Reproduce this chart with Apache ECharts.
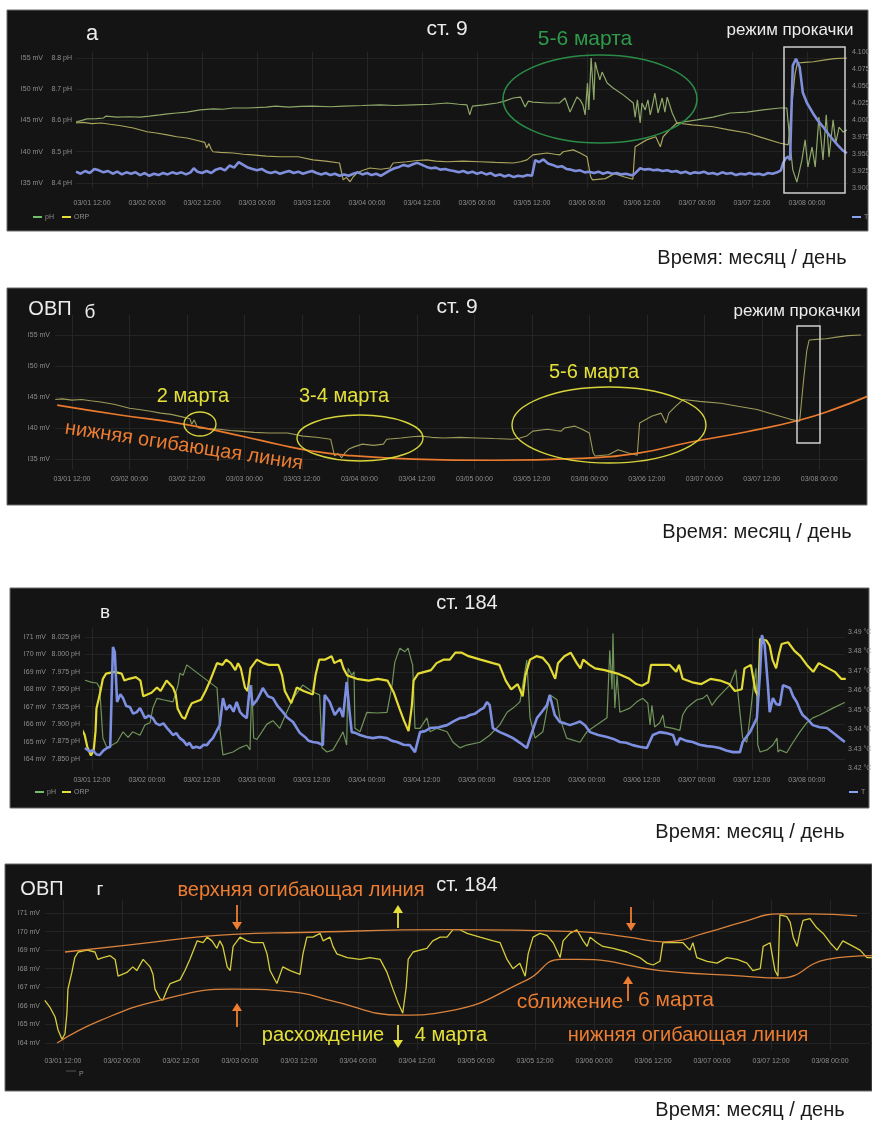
<!DOCTYPE html>
<html>
<head>
<meta charset="utf-8">
<script src="https://cdn.jsdelivr.net/npm/echarts@6/dist/echarts.min.js"></script>
<style>
html, body { margin: 0; padding: 0; background: #fff; }
#chart { width: 872px; height: 1121px; }
</style>
</head>
<body>
<div id="chart"></div>
<script>
// time is in hours from 03/01 00:00
var timeTicks = [12, 24, 36, 48, 60, 72, 84, 96, 108, 120, 132, 144, 156, 168];

var st9OrpTicks = [135, 140, 145, 150, 155];
var st9PhTicks = [8.4, 8.5, 8.6, 8.7, 8.8];
var st9TTicks = [3.9, 3.925, 3.95, 3.975, 4.0, 4.025, 4.05, 4.075, 4.1];
var st184OrpTicks = [364, 365, 366, 367, 368, 369, 370, 371];
var st184PhTicks = [7.85, 7.875, 7.9, 7.925, 7.95, 7.975, 8.0, 8.025];
var st184TTicks = [3.42, 3.43, 3.44, 3.45, 3.46, 3.47, 3.48, 3.49];

// station 9
var st9Orp = [[8.5,144.6],[10,144.7],[12,144.5],[14,144.6],[15.9,144.4],[18,144.2],[21,143.8],[24,143.2],[26,143.0],[28.4,142.7],[30.5,142.4],[32.7,142.2],[35,141.8],[36.6,141.5],[37.0,140.6],[37.5,141.3],[38.0,140.4],[38.4,140.0],[40,139.9],[42.8,139.8],[45,139.6],[47,139.5],[50,139.3],[53,139.2],[57,139.2],[60.2,138.7],[63,138.5],[66,138.2],[66.8,135.5],[67.5,135.9],[68.3,135.2],[69.0,136.0],[69.8,136.6],[71,137.0],[72.6,137.4],[75,137.2],[77,137.4],[77.7,138.2],[80.7,138.4],[83,138.6],[85,138.7],[87,138.5],[89.5,138.4],[93,138.5],[96.6,138.4],[100,138.3],[103.9,138.2],[105.5,138.4],[106.9,138.7],[108.2,139.5],[111.3,139.8],[113,139.6],[114.1,139.5],[114.8,140.0],[117,140.3],[118.5,139.8],[120,139.2],[120.8,136.0],[121.2,135.5],[124,135.7],[126,136.5],[128,136.0],[130,135.6],[130.5,140.8],[133,141.9],[135,142.4],[136,140.8],[136.6,142.4],[138,143.5],[139.6,144.6],[143,144.3],[147.5,144.0],[151,143.5],[155,143.0],[158,142.3],[162,141.4],[163.9,141.1],[164.8,148.3],[165.4,152.5],[165.9,154.2],[167.5,154.3],[169.4,154.4],[172,154.7],[174,154.9],[176.7,155.0]];

var st9Ph = [[8.5,8.595],[10.9,8.605],[13,8.606],[14.5,8.608],[15.0,8.614],[17.5,8.611],[20,8.612],[22.5,8.611],[24.5,8.614],[26.8,8.618],[28.5,8.621],[30.5,8.624],[32.7,8.627],[35.6,8.634],[38.5,8.637],[40.5,8.636],[42.8,8.640],[46,8.640],[50,8.643],[52,8.646],[55,8.643],[57.5,8.645],[60,8.646],[64,8.644],[67,8.646],[71,8.648],[74.8,8.650],[78,8.648],[82,8.650],[86,8.652],[89.5,8.656],[92,8.652],[93.8,8.650],[94.4,8.618],[95,8.646],[97.5,8.650],[100.4,8.656],[102,8.662],[103.9,8.672],[105.5,8.675],[106.5,8.643],[107.2,8.662],[108.2,8.659],[111.3,8.656],[114,8.656],[115.2,8.672],[116.3,8.627],[117.8,8.675],[118.5,8.666],[119.1,8.650],[119.6,8.618],[120.1,8.72],[120.4,8.634],[120.9,8.8],[121.3,8.794],[121.5,8.666],[121.8,8.787],[122.2,8.762],[122.8,8.73],[123.3,8.755],[124.4,8.72],[125.7,8.704],[127.9,8.682],[130.1,8.656],[130.5,8.611],[131,8.666],[131.6,8.592],[132,8.656],[132.7,8.634],[133.3,8.666],[133.8,8.618],[134.4,8.656],[134.8,8.688],[135.5,8.624],[136.4,8.672],[137,8.627],[137.5,8.675],[138.6,8.624],[139.6,8.592],[144,8.602],[147.5,8.611],[151.2,8.624],[154.9,8.627],[158.4,8.634],[162.1,8.64],[163.6,8.64],[164.3,8.528],[164.9,8.442],[165.8,8.403],[166.9,8.474],[167.6,8.538],[168.2,8.451],[169.1,8.515],[169.8,8.451],[170.6,8.611],[171.5,8.474],[172.2,8.618],[172.8,8.483],[173.7,8.602],[174.3,8.528],[175,8.579],[175.9,8.563],[176.7,8.57]];

var st9T = [[8.5,3.924],[9.5,3.921],[10.5,3.925],[11.5,3.922],[12.5,3.928],[13.5,3.926],[14.5,3.923],[15.5,3.925],[16.5,3.921],[17.5,3.924],[18.5,3.920],[19.5,3.923],[20.5,3.921],[21.5,3.923],[22.5,3.919],[23.5,3.922],[24.5,3.918],[25.5,3.921],[26.5,3.919],[27.5,3.922],[28.5,3.920],[29.5,3.923],[30.5,3.921],[31.5,3.923],[32.5,3.920],[33.5,3.923],[34.2,3.929],[35,3.924],[36,3.922],[37,3.925],[38,3.922],[39,3.927],[40,3.929],[41,3.926],[42,3.933],[43,3.930],[44,3.938],[45,3.934],[46,3.930],[47,3.928],[48,3.926],[49,3.928],[50,3.924],[51,3.922],[52,3.924],[53,3.921],[54,3.923],[55,3.925],[56,3.922],[57,3.924],[58,3.921],[59,3.923],[60,3.925],[61,3.922],[62,3.920],[63,3.922],[64,3.919],[65,3.921],[66,3.918],[67,3.920],[68,3.918],[69,3.921],[70,3.923],[71,3.920],[72,3.922],[73,3.919],[74,3.921],[75,3.918],[76,3.922],[77,3.926],[78,3.929],[79,3.931],[80,3.934],[81,3.932],[82,3.935],[83,3.937],[84,3.934],[85,3.931],[86,3.929],[87,3.930],[88,3.927],[89,3.928],[90,3.926],[91,3.925],[92,3.923],[93,3.925],[94,3.922],[95,3.924],[96,3.921],[97,3.923],[98,3.920],[99,3.922],[100,3.918],[101,3.920],[102,3.917],[103,3.919],[104,3.916],[105,3.918],[106,3.917],[107,3.919],[108,3.918],[108.7,3.941],[109.5,3.938],[110.5,3.942],[111.5,3.936],[112.5,3.934],[113.5,3.931],[114.5,3.932],[115.5,3.928],[116.5,3.927],[117.5,3.925],[118.5,3.926],[119.5,3.923],[120.5,3.924],[121.5,3.922],[122.5,3.924],[123.5,3.921],[124.5,3.923],[125.5,3.921],[126.5,3.922],[127.5,3.920],[128.5,3.921],[129.5,3.919],[130.1,3.919],[131.6,3.929],[132.5,3.927],[133.5,3.928],[134.5,3.926],[135.5,3.927],[136.5,3.925],[137.5,3.926],[138.5,3.924],[139.5,3.925],[140.5,3.922],[141.5,3.924],[142.5,3.921],[143.5,3.923],[144.5,3.922],[145.5,3.924],[146.5,3.921],[147.5,3.922],[148.5,3.920],[149.5,3.923],[150.5,3.921],[151.5,3.922],[152.5,3.919],[153.5,3.921],[154.5,3.920],[155.5,3.922],[156.5,3.920],[157.5,3.921],[158.5,3.919],[159.5,3.922],[160.5,3.921],[161.5,3.923],[162.3,3.926],[162.8,3.937],[163.4,3.944],[163.9,3.946],[164.3,3.941],[164.9,4.080],[165.6,4.090],[166.4,4.078],[167.1,4.040],[168,4.025],[169.3,4.010],[170.4,3.999],[171.5,3.990],[172.6,3.980],[173.7,3.971],[174.7,3.963],[175.7,3.956],[176.7,3.951]];

var st9LowerEnv = [[8.9,143.7],[22,142.1],[35.6,140.6],[48,138.6],[55.4,137.3],[62,136.3],[69.4,135.6],[83.2,135.0],[100,134.8],[118,135.1],[130.5,136.0],[141,137.7],[152.9,139.4],[164,141.3],[171,143.0],[178.6,145.3]];

// station 184
var st184Orp = [[8.3,366.3],[9.4,365.9],[10.4,365.4],[11.0,364.7],[11.8,364.2],[12.4,364.5],[12.8,365.6],[13.0,366.9],[13.8,367.8],[14.4,368.6],[15.1,368.9],[16.9,369.0],[18.5,368.9],[19.1,368.5],[20.1,368.6],[21.6,368.7],[22.6,368.5],[23.2,367.6],[25.0,367.8],[26.2,368.1],[27.0,367.9],[28.3,368.5],[29.7,368.1],[30.3,367.7],[30.7,366.9],[31.7,366.4],[32.3,366.3],[33.2,366.9],[33.8,367.2],[35.8,367.4],[36.8,367.9],[37.8,368.5],[39.3,369.5],[40.5,369.4],[41.3,369.7],[42.3,369.5],[43.3,369.1],[43.9,369.5],[44.5,369.2],[45.4,368.1],[46.0,367.9],[46.6,369.2],[48.0,369.7],[49.4,369.5],[50.6,369.4],[52.7,369.4],[53.5,368.8],[54.1,367.9],[55.5,367.2],[56.7,368.1],[58.2,367.9],[60.2,367.7],[60.8,368.8],[61.6,369.7],[62.8,369.7],[64.3,369.9],[64.9,369.5],[66.3,369.7],[66.9,369.2],[67.7,368.8],[69.8,368.6],[72.4,368.5],[74.4,368.6],[76.5,368.5],[77.9,367.8],[79.1,366.9],[80.1,366.2],[81.1,365.6],[81.8,367.0],[82.2,368.5],[83.2,368.9],[84.6,369.0],[86.0,369.1],[87.2,369.5],[88.7,369.7],[90.1,369.7],[91.3,370.1],[92.7,370.1],[94.2,369.9],[96.8,369.7],[99.5,369.5],[100.9,369.4],[102.3,368.5],[103.5,368.0],[104.9,368.3],[106.0,367.6],[106.6,368.8],[107.6,369.7],[109.0,369.9],[110.4,369.8],[111.7,369.4],[113.1,368.6],[113.7,369.5],[115.1,369.9],[116.5,370.1],[117.8,369.5],[118.6,369.2],[119.2,369.7],[120.6,369.4],[121.8,369.2],[123.9,369.1],[126.7,368.9],[129.3,368.6],[130.8,368.3],[132.0,368.2],[133.4,368.4],[134.0,369.4],[136.1,369.4],[138.1,369.4],[139.5,369.0],[140.1,369.4],[140.9,368.6],[143.0,368.4],[145.0,368.3],[147.0,368.6],[149.1,368.5],[151.1,368.3],[152.3,367.9],[153.8,368.0],[154.4,369.2],[155.8,369.4],[156.8,367.9],[157.4,367.6],[157.8,370.9],[159.2,370.8],[159.9,370.5],[160.5,369.7],[161.3,369.2],[161.9,370.0],[162.5,370.6],[163.9,370.7],[165.3,370.2],[166.6,369.9],[168.0,369.4],[169.4,369.0],[170.6,369.5],[172.7,369.2],[174.1,369.0],[175.5,368.6],[176.5,368.6]];

var st184Ph = [[10.5,7.963],[12,7.960],[13.1,7.959],[13.7,7.952],[14.4,7.880],[15.3,7.866],[16.4,7.870],[17.5,7.874],[18.8,7.889],[19.9,7.881],[20.9,7.889],[22.5,7.884],[23.6,7.899],[24.7,7.902],[25.3,7.923],[26.2,7.937],[27.5,7.935],[29.7,7.932],[30.8,7.956],[31.2,7.973],[31.9,7.970],[32.7,7.985],[39.3,7.952],[39.9,7.894],[40.6,7.856],[42.8,7.860],[44.3,7.866],[45.8,7.870],[46.5,7.863],[46.9,7.956],[47.3,7.880],[48.0,7.878],[50.2,7.900],[51.5,7.905],[53.0,7.894],[54.5,7.917],[55.9,7.937],[58.0,7.956],[60.2,7.946],[61.7,7.942],[62.2,7.866],[63.3,7.860],[64.6,7.863],[66.1,7.880],[66.8,7.889],[67.6,7.870],[67.9,7.980],[68.7,7.970],[69.2,7.975],[69.4,7.894],[70.5,7.889],[72.0,7.917],[74.2,7.916],[76.4,7.917],[77.5,7.956],[78.1,7.989],[79.2,8.009],[80.3,8.004],[81.0,8.009],[81.8,7.989],[82.0,7.985],[82.5,7.894],[83.6,7.894],[85.1,7.909],[85.8,7.889],[87.3,7.894],[89.5,7.889],[90.8,7.874],[92.3,7.866],[93.8,7.870],[96.7,7.874],[98.8,7.884],[101.0,7.899],[102.6,7.917],[103.9,7.923],[105.4,7.932],[106.0,7.956],[106.9,7.992],[107.6,7.909],[108.7,7.880],[110.4,7.889],[111.9,7.942],[113.5,7.935],[114.1,7.909],[115.6,7.880],[118.5,7.874],[120.0,7.889],[122.2,7.899],[124.4,7.909],[125.0,8.006],[125.5,7.950],[125.7,8.030],[126.1,7.923],[126.6,7.970],[127.2,7.917],[129.4,7.923],[130.9,7.932],[132.2,7.937],[133.3,7.930],[133.8,7.899],[134.2,7.927],[134.8,7.896],[135.9,7.902],[136.6,7.913],[137.0,7.896],[138.8,7.894],[140.3,7.891],[140.9,7.913],[141.8,7.923],[142.5,7.927],[144.0,7.935],[145.3,7.937],[146.2,7.942],[147.3,7.927],[148.4,7.937],[149.7,7.946],[151.2,7.956],[152.5,7.978],[153.0,7.942],[154.0,7.880],[154.9,7.874],[155.6,7.909],[156.2,7.946],[156.9,7.980],[157.3,7.870],[157.8,7.860],[159.3,7.863],[160.6,7.870],[161.5,7.880],[161.7,7.860],[162.1,7.863],[163.6,7.859],[165.0,7.874],[166.5,7.889],[168.0,7.902],[169.3,7.909],[170.8,7.913],[173.7,7.923],[175.9,7.930],[176.3,7.931]];

var st184T = [[10.5,3.4303],[11.5,3.4285],[12.2,3.4293],[13,3.427],[13.7,3.4267],[14.5,3.429],[15.3,3.4303],[16,3.431],[16.4,3.4318],[16.6,3.4823],[17.0,3.4797],[17.5,3.454],[18.2,3.458],[18.8,3.456],[19.5,3.452],[20.3,3.4514],[21,3.448],[21.8,3.4488],[22.5,3.4509],[23.6,3.4457],[24.4,3.447],[25.3,3.4457],[26,3.443],[26.8,3.4421],[27.6,3.443],[28.4,3.4406],[29,3.439],[29.7,3.437],[30.4,3.438],[31.2,3.4354],[32,3.434],[32.7,3.4318],[33.3,3.433],[34.0,3.4303],[34.8,3.431],[35.6,3.4303],[36.4,3.432],[37.1,3.4318],[37.8,3.434],[38.4,3.4354],[39.2,3.439],[39.9,3.4421],[40.6,3.456],[41.3,3.450],[42.1,3.4524],[42.9,3.449],[43.6,3.454],[44.3,3.449],[44.9,3.4473],[45.8,3.4457],[46.5,3.4627],[47.1,3.4524],[48,3.455],[48.7,3.458],[49.3,3.4612],[50.4,3.457],[51.5,3.456],[52.5,3.452],[53.7,3.4488],[54.6,3.446],[55.9,3.4437],[56.6,3.441],[57.4,3.438],[58.5,3.436],[59.3,3.434],[60.2,3.4334],[61.3,3.433],[62.4,3.4318],[62.8,3.4576],[63.9,3.454],[65.0,3.4473],[66.1,3.4509],[66.8,3.4462],[67.6,3.4643],[68.3,3.4473],[68.7,3.4385],[69.6,3.438],[70.5,3.437],[71.9,3.436],[73.3,3.4354],[74.8,3.436],[76.4,3.4354],[77.5,3.434],[78.6,3.4334],[80,3.432],[81.4,3.4318],[82.5,3.4282],[83.6,3.4385],[84.7,3.439],[85.8,3.4406],[87.7,3.441],[89.5,3.4421],[90.9,3.444],[92.3,3.4457],[93.4,3.446],[94.5,3.4473],[95.6,3.448],[96.7,3.4499],[97.5,3.451],[98.2,3.454],[98.8,3.4524],[99.5,3.4406],[101,3.4385],[102.5,3.437],[103.9,3.4354],[105.4,3.433],[106.9,3.4303],[107.6,3.4354],[109.1,3.4457],[110.2,3.449],[111.3,3.4524],[111.9,3.4576],[113.0,3.4473],[114.1,3.4437],[115.2,3.443],[116.3,3.4421],[117.4,3.443],[118.5,3.444],[119.6,3.442],[120.7,3.4385],[122.5,3.437],[124.4,3.436],[125.8,3.435],[127.2,3.4334],[128.6,3.433],[130.0,3.4318],[131.5,3.431],[133.1,3.4303],[134.4,3.437],[135.9,3.4385],[137.3,3.438],[138.8,3.437],[139.6,3.4318],[140.3,3.4354],[141.7,3.434],[143.1,3.4334],[144.6,3.432],[146.2,3.4313],[147.6,3.431],[149.0,3.4303],[150.4,3.429],[151.9,3.4282],[153.4,3.4282],[154.0,3.4334],[155.6,3.4385],[157.1,3.4457],[157.8,3.4694],[158.2,3.4885],[158.8,3.4834],[159.5,3.4627],[159.9,3.4488],[160.6,3.456],[161.3,3.453],[162.1,3.4524],[162.8,3.4627],[163.5,3.462],[164.3,3.4612],[165.0,3.457],[165.8,3.454],[166.5,3.450],[167.1,3.4473],[168.2,3.445],[169.3,3.4421],[170.8,3.441],[172.4,3.4406],[173.8,3.438],[175.2,3.4354],[176.3,3.4334]];

var st184UpperEnv = [[12.4,368.9],[26,369.3],[46.6,369.85],[60,369.95],[91,370.1],[117,370.0],[127,369.7],[134,369.45],[143.6,370.0],[150,370.5],[157.8,370.95],[163.9,370.95],[173.5,370.85]];
var st184LowerEnv = [[10.8,364.0],[19.5,365.2],[31.7,366.3],[46.6,366.9],[60.2,366.7],[66.3,366.3],[81.1,365.5],[90.1,365.7],[106.4,367.4],[113.1,368.5],[117.1,368.5],[133.4,367.9],[150.3,367.6],[157.8,367.5],[167.4,368.5],[176.5,368.7]];

var FONT = '"Liberation Sans", Arial, sans-serif';
var LABEL = '#8e8e8e';

function pad(n) { return (n < 10 ? '0' : '') + n; }
function fmtTime(h) {
  var d = Math.floor(h / 24) + 1;
  return '03/' + pad(d) + ' ' + pad(h - (d - 1) * 24) + ':00';
}
function fmtMv(v) { return 'I' + String(Math.round(v)).slice(1) + ' mV'; }

function xAx(grid, min, max, margin) {
  return {
    type: 'value', gridIndex: grid, min: min, max: max,
    axisLine: { show: false },
    axisTick: { show: false, customValues: timeTicks },
    axisLabel: { customValues: timeTicks, formatter: fmtTime, color: LABEL, fontSize: 7, margin: margin, fontFamily: FONT },
    splitLine: { show: true, lineStyle: { color: '#262626', width: 1 } }
  };
}
function yAx(grid, pos, offset, min, max, ticks, fmt, split, margin) {
  return {
    type: 'value', gridIndex: grid, position: pos, offset: offset, min: min, max: max,
    axisLine: { show: false },
    axisTick: { show: false, customValues: ticks },
    axisLabel: { customValues: ticks, formatter: fmt, color: LABEL, fontSize: 7, margin: margin, fontFamily: FONT },
    splitLine: { show: split, lineStyle: { color: '#232323', width: 1 } }
  };
}
function line(data, xi, yi, color, width, smooth, z) {
  return {
    type: 'line', data: data, xAxisIndex: xi, yAxisIndex: yi,
    showSymbol: false, symbol: 'none', smooth: smooth || false,
    lineStyle: { color: color, width: width }, z: z || 2, silent: true
  };
}

// annotation helpers
function txt(x, y, s, size, color, rot) {
  return {
    type: 'text', x: x, y: y, rotation: rot || 0, z: 60, silent: true,
    style: { text: s, fill: color, font: size + 'px ' + FONT, textAlign: 'center', textVerticalAlign: 'middle', align: 'center', verticalAlign: 'middle' }
  };
}
function ell(cx, cy, rx, ry, color, w) {
  return { type: 'ellipse', z: 60, silent: true, shape: { cx: cx, cy: cy, rx: rx, ry: ry }, style: { fill: 'none', stroke: color, lineWidth: w || 1.4 } };
}
function box(x, y, w, h, color) {
  return { type: 'rect', z: 60, silent: true, shape: { x: x, y: y, width: w, height: h }, style: { fill: 'none', stroke: color, lineWidth: 1.5 } };
}
function panel(x, y, w, h) {
  return { type: 'rect', z: -10, silent: true, shape: { x: x, y: y, width: w, height: h }, style: { fill: '#141414', stroke: '#6a6a6a', lineWidth: 1 } };
}
function arrow(x, y1, y2, color) {
  var d = y2 > y1 ? 1 : -1;
  return [
    { type: 'line', z: 60, silent: true, shape: { x1: x, y1: y1, x2: x, y2: y2 - d * 6 }, style: { stroke: color, lineWidth: 1.8 } },
    { type: 'polygon', z: 60, silent: true, shape: { points: [[x - 5, y2 - d * 8], [x + 5, y2 - d * 8], [x, y2]] }, style: { fill: color } }
  ];
}
function leg(x, y, color, label) {
  return [
    { type: 'line', z: 60, silent: true, shape: { x1: x, y1: y, x2: x + 9, y2: y }, style: { stroke: color, lineWidth: 2 } },
    { type: 'text', z: 60, silent: true, x: x + 12, y: y, style: { text: label, fill: LABEL, font: '7px ' + FONT, textVerticalAlign: 'middle', verticalAlign: 'middle' } }
  ];
}

var WHITE = '#ececec', YEL = '#e4e03a', ORG = '#ec7d32', GRN = '#2e9b4b';
var CAP = 'Время: месяц / день';

var graphics = [
  panel(7, 10, 861, 221), panel(7, 288, 860, 217), panel(10, 588, 859, 220), panel(5, 864, 867, 227),
  // a
  txt(92, 34, 'а', 22, WHITE), txt(447, 29, 'ст. 9', 21, WHITE),
  txt(585, 39, '5-6 марта', 21, GRN), txt(790, 30, 'режим прокачки', 17, WHITE),
  ell(600, 99, 97, 44, '#2a8c46', 1.6), box(784, 47, 61, 146, '#cfcfcf'),
  // б
  txt(50, 309, 'ОВП', 20, WHITE), txt(90, 313, 'б', 19, WHITE), txt(457, 307, 'ст. 9', 21, WHITE),
  txt(797, 311, 'режим прокачки', 17, WHITE),
  txt(193, 396, '2 марта', 20, YEL), txt(344, 396, '3-4 марта', 20, YEL), txt(594, 372, '5-6 марта', 20, YEL),
  txt(184, 446, 'нижняя огибающая линия', 20, ORG, -0.15),
  ell(200, 424, 16, 12, '#d7d43a'), ell(360, 438, 63, 23, '#d7d43a'), ell(609, 425, 97, 38, '#d7d43a'),
  box(797, 326, 23, 117, '#cfcfcf'),
  // в
  txt(105, 613, 'в', 19, WHITE), txt(467, 603, 'ст. 184', 20, WHITE),
  // г
  txt(42, 889, 'ОВП', 20, WHITE), txt(100, 890, 'г', 19, WHITE),
  txt(301, 890, 'верхняя огибающая линия', 20, ORG), txt(467, 885, 'ст. 184', 20, WHITE),
  txt(323, 1035, 'расхождение', 20, YEL), txt(451, 1035, '4 марта', 20, YEL),
  txt(570, 1002, 'сближение', 21, ORG), txt(676, 1000, '6 марта', 21, ORG),
  txt(688, 1035, 'нижняя огибающая линия', 20, ORG),
  { type: 'line', z: 60, silent: true, shape: { x1: 66, y1: 1071, x2: 76, y2: 1071 }, style: { stroke: '#555', lineWidth: 1 } },
  { type: 'text', z: 60, silent: true, x: 79, y: 1074, style: { text: 'P', fill: LABEL, font: '7px ' + FONT, textVerticalAlign: 'middle', verticalAlign: 'middle' } },
  // captions
  txt(752, 258, CAP, 20, '#1a1a1a'), txt(757, 532, CAP, 20, '#1a1a1a'),
  txt(750, 832, CAP, 20, '#1a1a1a'), txt(750, 1110, CAP, 20, '#1a1a1a')
];
graphics = graphics
  .concat(arrow(237, 905, 930, ORG), arrow(398, 928, 905, YEL), arrow(631, 907, 931, ORG))
  .concat(arrow(237, 1027, 1003, ORG), arrow(398, 1025, 1048, YEL), arrow(628, 1001, 976, ORG))
  .concat(leg(33, 217, '#73bf69', 'pH'), leg(62, 217, '#e8de3a', 'ORP'), leg(852, 217, '#8aa0f0', 'T'))
  .concat(leg(35, 792, '#73bf69', 'pH'), leg(62, 792, '#e8de3a', 'ORP'), leg(849, 792, '#8aa0f0', 'T'));

var option = {
  backgroundColor: '#ffffff',
  animation: false,
  textStyle: { fontFamily: FONT },
  grid: [
    { left: 76, top: 52, width: 772, height: 136, containLabel: false, outerBoundsMode: 'none' },
    { left: 55, top: 315, width: 810, height: 155, containLabel: false, outerBoundsMode: 'none' },
    { left: 85, top: 628, width: 760, height: 142, containLabel: false, outerBoundsMode: 'none' },
    { left: 45, top: 900, width: 827, height: 150, containLabel: false, outerBoundsMode: 'none' }
  ],
  xAxis: [
    xAx(0, 8.5, 176.95, 12),
    xAx(1, 8.45, 177.55, 6),
    xAx(2, 10.5, 176.33, 7),
    xAx(3, 8.34, 176.53, 8)
  ],
  yAxis: [
    yAx(0, 'left', 29, 134.2, 155.96, st9OrpTicks, fmtMv, true, 4),                                          // 0
    yAx(0, 'left', 0, 8.384, 8.8192, st9PhTicks, function (v) { return v.toFixed(1) + ' pH'; }, false, 4),   // 1
    yAx(0, 'right', 0, 3.9, 4.1, st9TTicks, function (v) { return v.toFixed(3); }, false, 4),              // 2
    yAx(1, 'left', 0, 133.23, 158.23, st9OrpTicks, fmtMv, true, 5),                                         // 3
    yAx(2, 'left', 34, 363.37, 371.516, st184OrpTicks, fmtMv, true, 5),                                      // 4
    yAx(2, 'left', 0, 7.8342, 8.0379, st184PhTicks, function (v) { return v.toFixed(3) + ' pH'; }, false, 5), // 5
    yAx(2, 'right', 0, 3.419, 3.4921, st184TTicks, function (v) { return v.toFixed(2) + ' °C'; }, false, 3), // 6
    yAx(3, 'left', 0, 363.623, 371.7, st184OrpTicks, fmtMv, true, 5)                                         // 7
  ],
  series: [
    line(st9Ph, 0, 1, '#8fa86a', 1.2),
    line(st9Orp, 0, 0, '#aaa45c', 1.2),
    line(st9T, 0, 2, '#7f8fdc', 2.6),
    line(st9Orp, 1, 3, '#9c9a58', 1.1),
    line(st9LowerEnv, 1, 3, '#ea7a2e', 1.7, 0.5),
    line(st184Ph, 2, 5, '#6f935a', 1.2),
    line(st184Orp, 2, 4, '#e3da34', 2.2),
    line(st184T, 2, 6, '#7d8fe0', 2.6),
    line(st184Orp, 3, 7, '#d6cd3c', 1.3),
    line(st184UpperEnv, 3, 7, '#d9823c', 1.3, 0.5),
    line(st184LowerEnv, 3, 7, '#d9823c', 1.3, 0.5)
  ],
  graphic: { elements: graphics }
};

var chart = echarts.init(document.getElementById('chart'));
chart.setOption(option);
</script>
</body>
</html>
